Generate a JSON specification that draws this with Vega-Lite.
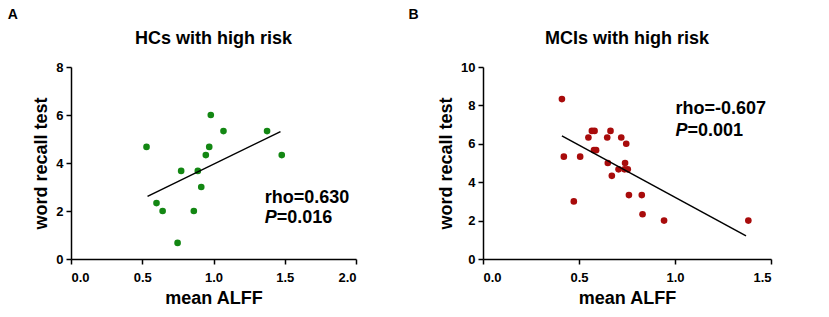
{
  "$schema": "https://vega.github.io/schema/vega-lite/v6.json",
  "background": "white",
  "padding": {"left": 7, "top": 8, "right": 5, "bottom": 5},
  "config": {
    "font": "Liberation Sans",
    "view": {"stroke": null},
    "axis": {"grid": false, "domainColor": "black", "domainWidth": 1.5, "tickColor": "black", "tickWidth": 1.5, "tickSize": 5,
      "labelFont": "Liberation Sans", "labelFontSize": 13, "labelFontWeight": "bold", "labelColor": "black", "labelOverlap": false,
      "titleFont": "Liberation Sans", "titleFontSize": 18, "titleFontWeight": "bold", "titleColor": "black", "titlePadding": 5},
    "axisX": {"labelPadding": 7},
    "axisY": {"labelPadding": 3},
    "title": {"font": "Liberation Sans", "fontSize": 18, "fontWeight": "bold", "color": "black"},
    "concat": {"spacing": 51}
  },
  "datasets": {
    "hc": [
      {"alff": 0.530, "wrt": 4.67}, {"alff": 0.600, "wrt": 2.33}, {"alff": 0.643, "wrt": 2.0}, {"alff": 0.748, "wrt": 0.67},
      {"alff": 0.773, "wrt": 3.67}, {"alff": 0.862, "wrt": 2.0}, {"alff": 0.890, "wrt": 3.67}, {"alff": 0.914, "wrt": 3.0},
      {"alff": 0.946, "wrt": 4.33}, {"alff": 0.970, "wrt": 4.67}, {"alff": 0.981, "wrt": 6.0}, {"alff": 1.070, "wrt": 5.33},
      {"alff": 1.376, "wrt": 5.33}, {"alff": 1.479, "wrt": 4.33}
    ],
    "mci": [
      {"alff": 0.411, "wrt": 8.33}, {"alff": 0.421, "wrt": 5.33}, {"alff": 0.473, "wrt": 3.0}, {"alff": 0.506, "wrt": 5.33},
      {"alff": 0.549, "wrt": 6.33}, {"alff": 0.567, "wrt": 6.67}, {"alff": 0.581, "wrt": 6.67}, {"alff": 0.578, "wrt": 5.67},
      {"alff": 0.589, "wrt": 5.67}, {"alff": 0.647, "wrt": 6.33}, {"alff": 0.650, "wrt": 5.0}, {"alff": 0.664, "wrt": 6.67},
      {"alff": 0.671, "wrt": 4.33}, {"alff": 0.706, "wrt": 4.67}, {"alff": 0.720, "wrt": 6.33}, {"alff": 0.746, "wrt": 6.0},
      {"alff": 0.740, "wrt": 5.0}, {"alff": 0.737, "wrt": 4.67}, {"alff": 0.754, "wrt": 4.67}, {"alff": 0.760, "wrt": 3.33},
      {"alff": 0.827, "wrt": 3.33}, {"alff": 0.831, "wrt": 2.33}, {"alff": 0.943, "wrt": 2.0}, {"alff": 1.382, "wrt": 2.0}
    ],
    "hcfit": [{"alff": 0.537, "wrt": 2.61}, {"alff": 1.47, "wrt": 5.31}],
    "mcifit": [{"alff": 0.411, "wrt": 6.41}, {"alff": 1.37, "wrt": 1.20}],
    "hcrho": [{"alff": 1.36, "wrt": 2.32, "label": "rho=0.630"}],
    "hcp": [{"alff": 1.36, "wrt": 1.52, "label": "=0.016"}],
    "mcirho": [{"alff": 1.002, "wrt": 7.54, "label": "rho=-0.607"}],
    "mcip": [{"alff": 1.002, "wrt": 6.41, "label": "=0.001"}]
  },
  "hconcat": [
    {
      "title": {"text": "A", "anchor": "start", "frame": "bounds", "fontSize": 14, "dx": -25, "offset": 8},
      "vconcat": [
        {
          "width": 285, "height": 192,
          "title": {"text": "HCs with high risk", "offset": 13},
          "layer": [
            {
              "data": {"name": "hc"},
              "mark": {"type": "point", "filled": true, "opacity": 1, "size": 44, "color": "#138713"},
              "encoding": {
                "x": {"field": "alff", "type": "quantitative", "title": "mean ALFF",
                  "scale": {"domain": [0, 2], "nice": false, "zero": true},
                  "axis": {"values": [0, 0.5, 1, 1.5, 2], "format": ".1f", "labelOverlap": false}},
                "y": {"field": "wrt", "type": "quantitative", "title": "word recall test",
                  "scale": {"domain": [0, 8], "nice": false},
                  "axis": {"values": [0, 2, 4, 6, 8], "format": "d", "labelOverlap": false}}
              }
            },
            {
              "data": {"name": "hcfit"},
              "mark": {"type": "line", "color": "black", "strokeWidth": 1.5},
              "encoding": {
                "x": {"field": "alff", "type": "quantitative"},
                "y": {"field": "wrt", "type": "quantitative"}
              }
            },
            {
              "data": {"name": "hcrho"},
              "mark": {"type": "text", "align": "left", "baseline": "alphabetic", "fontSize": 18, "fontWeight": "bold", "color": "black"},
              "encoding": {"x": {"field": "alff", "type": "quantitative"}, "y": {"field": "wrt", "type": "quantitative"}, "text": {"field": "label"}}
            },
            {
              "data": {"name": "hcp"},
              "mark": {"type": "text", "align": "left", "baseline": "alphabetic", "fontSize": 18, "fontWeight": "bold", "fontStyle": "italic", "color": "black"},
              "encoding": {"x": {"field": "alff", "type": "quantitative"}, "y": {"field": "wrt", "type": "quantitative"}, "text": {"value": "P"}}
            },
            {
              "data": {"name": "hcp"},
              "mark": {"type": "text", "align": "left", "baseline": "alphabetic", "fontSize": 18, "fontWeight": "bold", "color": "black", "dx": 12},
              "encoding": {"x": {"field": "alff", "type": "quantitative"}, "y": {"field": "wrt", "type": "quantitative"}, "text": {"field": "label"}}
            }
          ]
        }
      ]
    },
    {
      "title": {"text": "B", "anchor": "start", "frame": "bounds", "fontSize": 14, "dx": -29, "offset": 8},
      "vconcat": [
        {
          "width": 288, "height": 192,
          "title": {"text": "MCIs with high risk", "offset": 13},
          "layer": [
            {
              "data": {"name": "mci"},
              "mark": {"type": "point", "filled": true, "opacity": 1, "size": 44, "color": "#a80b0b"},
              "encoding": {
                "x": {"field": "alff", "type": "quantitative", "title": "mean ALFF",
                  "scale": {"domain": [0, 1.5], "nice": false, "zero": true},
                  "axis": {"values": [0, 0.5, 1, 1.5], "format": ".1f", "labelOverlap": false}},
                "y": {"field": "wrt", "type": "quantitative", "title": "word recall test",
                  "scale": {"domain": [0, 10], "nice": false},
                  "axis": {"values": [0, 2, 4, 6, 8, 10], "format": "d", "labelOverlap": false, "tickCount": 6}}
              }
            },
            {
              "data": {"name": "mcifit"},
              "mark": {"type": "line", "color": "black", "strokeWidth": 1.5},
              "encoding": {
                "x": {"field": "alff", "type": "quantitative"},
                "y": {"field": "wrt", "type": "quantitative"}
              }
            },
            {
              "data": {"name": "mcirho"},
              "mark": {"type": "text", "align": "left", "baseline": "alphabetic", "fontSize": 18, "fontWeight": "bold", "color": "black"},
              "encoding": {"x": {"field": "alff", "type": "quantitative"}, "y": {"field": "wrt", "type": "quantitative"}, "text": {"field": "label"}}
            },
            {
              "data": {"name": "mcip"},
              "mark": {"type": "text", "align": "left", "baseline": "alphabetic", "fontSize": 18, "fontWeight": "bold", "fontStyle": "italic", "color": "black"},
              "encoding": {"x": {"field": "alff", "type": "quantitative"}, "y": {"field": "wrt", "type": "quantitative"}, "text": {"value": "P"}}
            },
            {
              "data": {"name": "mcip"},
              "mark": {"type": "text", "align": "left", "baseline": "alphabetic", "fontSize": 18, "fontWeight": "bold", "color": "black", "dx": 12},
              "encoding": {"x": {"field": "alff", "type": "quantitative"}, "y": {"field": "wrt", "type": "quantitative"}, "text": {"field": "label"}}
            }
          ]
        }
      ]
    }
  ]
}
